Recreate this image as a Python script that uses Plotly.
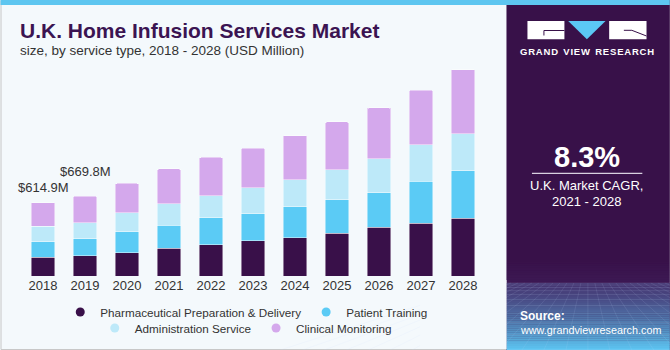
import plotly.graph_objects as go

years = ["2018", "2019", "2020", "2021", "2022", "2023", "2024", "2025", "2026", "2027", "2028"]
pharma = [157.0, 170.0, 195.7, 231.8, 260.4, 294.0, 321.7, 358.7, 409.1, 442.7, 484.7]
patient = [130.0, 142.0, 176.4, 193.2, 226.8, 229.3, 257.9, 279.7, 291.5, 352.8, 397.3]
admin = [129.0, 136.0, 157.1, 182.3, 184.8, 218.4, 226.8, 254.5, 285.6, 304.9, 313.3]
clinical = [198.9, 221.8, 248.6, 291.5, 324.2, 331.0, 372.1, 400.7, 425.9, 459.5, 537.6]
series_names = ["Pharmaceutical Preparation & Delivery", "Patient Training",
                "Administration Service", "Clinical Monitoring"]
colors = ["#391049", "#5BCBF5", "#BDE9F9", "#D4A8EC"]
total_labels = {"2018": "$614.9M", "2019": "$669.8M"}
cagr_text = "8.3%"

W, H = 670, 350
L, R, T, B = 21.5, 484.0, 60.0, 276.0
YMAX = 1814.0


def px(x):
    return (x - L) / (R - L)


def py(y):
    return (B - y) / (B - T)


fig = go.Figure()
all_series = [pharma, patient, admin, clinical]
for name, vals, col in zip(series_names, all_series, colors):
    fig.add_trace(go.Bar(x=years, y=vals, name=name,
                         marker=dict(color=col, line=dict(color="rgba(255,255,255,0.55)", width=0.8)),
                         showlegend=False, hoverinfo="skip"))

legend_ids = ["legend", "legend", "legend2", "legend2"]
for name, col, lg in zip(series_names, colors, legend_ids):
    fig.add_trace(go.Scatter(x=[years[0]], y=[-1000], mode="markers", name=name,
                             marker=dict(color=col, size=9, symbol="circle"), legend=lg, hoverinfo="skip"))

totals = [sum(v) for v in zip(*all_series)]
shifts = {"2018": 6, "2019": 15}
annotations = []
for yr, lab in total_labels.items():
    i = years.index(yr)
    annotations.append(dict(x=i, y=totals[i], xref="x", yref="y", text=lab, showarrow=False,
                            yanchor="bottom", yshift=shifts[yr], font=dict(size=13, color="#333333")))

shapes = []
shapes.append(dict(type="rect", xref="paper", yref="paper", x0=px(0.5), x1=px(669.5), y0=py(349.5), y1=py(0.5),
                   line=dict(color="#C8C8C8", width=1), fillcolor="rgba(0,0,0,0)", layer="below"))
shapes.append(dict(type="rect", xref="paper", yref="paper", x0=px(506.5), x1=px(670), y0=py(350), y1=py(0),
                   line=dict(width=0), fillcolor="#381149", layer="below"))
g0, g1 = 283.0, 350.0
n = 34
c_top = (70, 55, 115)
c_bot = (92, 195, 240)
for k in range(n):
    f = k / (n - 1)
    f2 = f ** 1.3
    c = tuple(int(c_top[j] + (c_bot[j] - c_top[j]) * f2) for j in range(3))
    y0 = g0 + (g1 - g0) * k / n
    y1 = g0 + (g1 - g0) * (k + 1) / n + 0.3
    shapes.append(dict(type="rect", xref="paper", yref="paper", x0=px(506.5), x1=px(670), y0=py(y1), y1=py(y0),
                       line=dict(width=0), fillcolor="rgb(%d,%d,%d)" % c, layer="below"))
for k in range(12):
    y0 = 262 + k * 1.75
    a = 0.03 + 0.012 * k
    shapes.append(dict(type="rect", xref="paper", yref="paper", x0=px(506.5), x1=px(670), y0=py(y0 + 1.8), y1=py(y0),
                       line=dict(width=0), fillcolor="rgba(90,70,140,%.3f)" % a, layer="below"))
hl = 283.0
yy = hl
step = 2.0
while yy < 350:
    shapes.append(dict(type="line", xref="paper", yref="paper", x0=px(506.5), x1=px(670), y0=py(yy), y1=py(yy),
                       line=dict(color="rgba(200,220,255,0.18)", width=0.7), layer="below"))
    yy += step
    step *= 1.25
for k in range(-14, 15):
    xt = 588 + k * 7
    xb = 588 + k * 22
    shapes.append(dict(type="line", xref="paper", yref="paper", x0=px(xt), x1=px(xb), y0=py(hl), y1=py(350),
                       line=dict(color="rgba(200,220,255,0.16)", width=0.7), layer="below"))
shapes.append(dict(type="rect", xref="paper", yref="paper", x0=px(420), x1=px(506.5), y0=py(349), y1=py(280),
                   line=dict(width=0), fillcolor="#F4F9FC", layer="below"))
shapes.append(dict(type="rect", xref="paper", yref="paper", x0=px(0), x1=px(670), y0=py(5), y1=py(0),
                   line=dict(width=0), fillcolor="#5EC6F0", layer="above"))
shapes.append(dict(type="rect", xref="paper", yref="paper", x0=px(527.5), x1=px(564.5), y0=py(39.3), y1=py(21),
                   line=dict(width=0), fillcolor="white", layer="above"))
shapes.append(dict(type="path", xref="paper", yref="paper",
                   path="M %f,%f L %f,%f L %f,%f Z" % (px(568.3), py(21), px(605.7), py(21), px(587), py(39.3)),
                   line=dict(width=0), fillcolor="#5BC8F5", layer="above"))
shapes.append(dict(type="rect", xref="paper", yref="paper", x0=px(609.3), x1=px(646.7), y0=py(39.3), y1=py(21),
                   line=dict(width=0), fillcolor="white", layer="above"))
shapes.append(dict(type="path", xref="paper", yref="paper",
                   path="M %f,%f L %f,%f L %f,%f" % (px(544), py(35.5), px(544), py(30.5), px(564.5), py(30.5)),
                   line=dict(color="#381149", width=1), layer="above"))
shapes.append(dict(type="path", xref="paper", yref="paper",
                   path="M %f,%f L %f,%f L %f,%f" % (px(624), py(30.3), px(632), py(30.3), px(646.7), py(36)),
                   line=dict(color="#381149", width=1), layer="above"))
shapes.append(dict(type="line", xref="paper", yref="paper", x0=px(532), x1=px(642.5), y0=py(173.3), y1=py(173.3),
                   line=dict(color="#D8D0E0", width=1.2), layer="above"))


def ann(x, y, text, size, color="#FFFFFF", bold=False, xanchor="center", family="Liberation Sans, Arial, sans-serif"):
    t = "<b>%s</b>" % text if bold else text
    return dict(x=px(x), y=py(y), xref="paper", yref="paper", text=t, showarrow=False, xanchor=xanchor,
                yanchor="middle", font=dict(size=size, color=color, family=family))


annotations.append(ann(17, 30, "U.K. Home Infusion Services Market", 21, "#3B1452", True, "left"))
annotations.append(ann(17, 50, "size, by service type, 2018 - 2028 (USD Million)", 13.5, "#333333", False, "left"))
gvr = "\u200a".join("GRAND") + "  " + "\u200a".join("VIEW") + "  " + "\u200a".join("RESEARCH")
annotations.append(ann(587.5, 51.3, gvr, 9.5, "#FFFFFF", True))
annotations.append(ann(587, 157, cagr_text, 29, "#FFFFFF", True))
annotations.append(ann(587, 185.5, "U.K. Market CAGR,", 13, "#FFFFFF"))
annotations.append(ann(587, 201, "2021 - 2028", 13, "#FFFFFF"))
annotations.append(ann(518, 316, "Source:", 12, "#FFFFFF", True, "left"))
annotations.append(ann(518, 330, "www.grandviewresearch.com", 10.8, "#FFFFFF", False, "left"))

fig.update_layout(
    width=W, height=H,
    margin=dict(l=L, r=W - R, t=T, b=H - B, pad=0, autoexpand=False),
    barmode="stack", bargap=0.43, barcornerradius=2,
    paper_bgcolor="#F4F9FC", plot_bgcolor="rgba(0,0,0,0)",
    font=dict(family="Liberation Sans, Arial, sans-serif", color="#333333"),
    xaxis=dict(type="category", categoryorder="array", categoryarray=years, range=[-0.5, len(years) - 0.5],
               showgrid=False, showline=False, ticks="", tickfont=dict(size=13, color="#333333"),
               fixedrange=True, zeroline=False, automargin=False),
    yaxis=dict(range=[0, YMAX], visible=False, fixedrange=True),
    showlegend=True,
    legend=dict(orientation="h", x=px(246.5), xanchor="center", y=py(312), yanchor="middle", traceorder="normal",
                font=dict(size=11.7, color="#333333"), bgcolor="rgba(0,0,0,0)", itemwidth=30, tracegroupgap=0),
    legend2=dict(orientation="h", x=px(245.5), xanchor="center", y=py(328), yanchor="middle", traceorder="normal",
                 font=dict(size=11.7, color="#333333"), bgcolor="rgba(0,0,0,0)", itemwidth=30, tracegroupgap=0),
    annotations=annotations,
    shapes=shapes,
)

fig.write_html("out.html", config={"displayModeBar": False})
